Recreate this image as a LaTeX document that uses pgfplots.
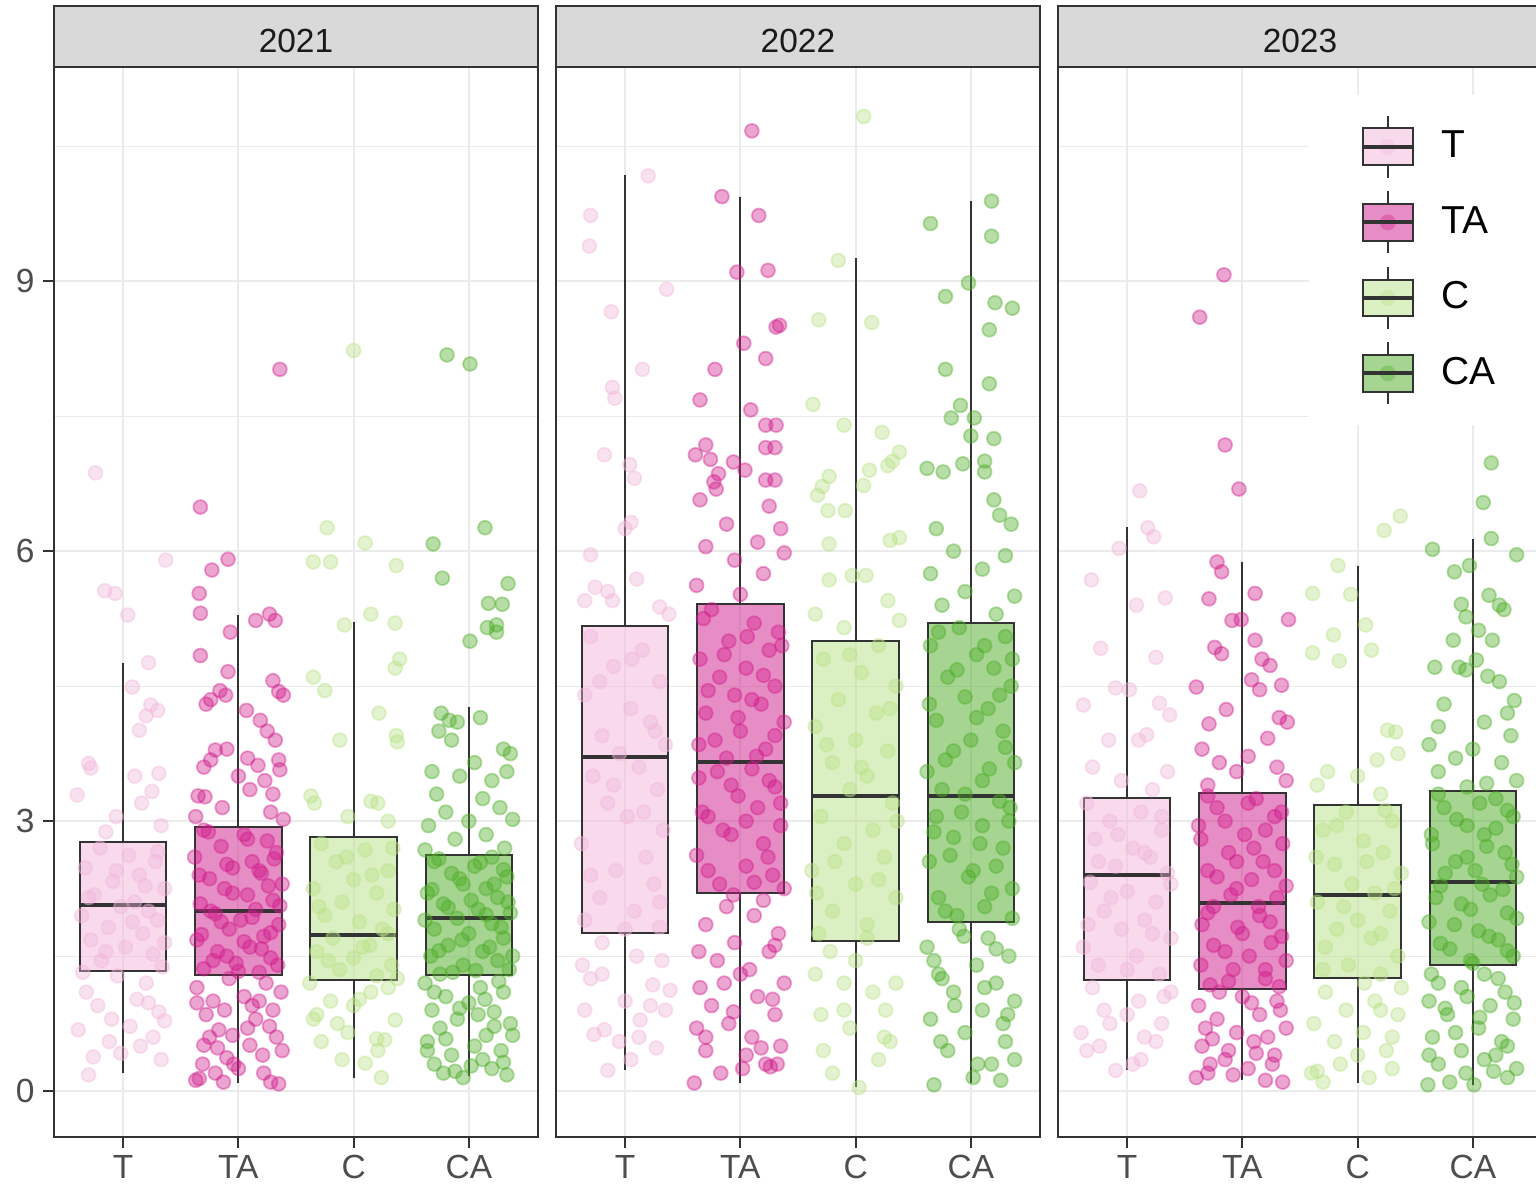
\documentclass[border=0pt]{standalone}
\usepackage{fontspec}
\setmainfont{Liberation Sans}
\usepackage{pgfplots}
\pgfplotsset{compat=1.18}
\usepgfplotslibrary{statistics}
\definecolor{cT}{HTML}{F1B6DA}
\definecolor{cTA}{HTML}{D01C8B}
\definecolor{cC}{HTML}{B8E186}
\definecolor{cCA}{HTML}{4DAC26}
\definecolor{gtwenty}{HTML}{333333}
\definecolor{gthirty}{HTML}{4D4D4D}
\definecolor{gten}{HTML}{1A1A1A}
\definecolor{geightyfive}{HTML}{D9D9D9}
\definecolor{gninetytwo}{HTML}{EBEBEB}
\pgfplotsset{
  panel/.style={
    scale only axis, width=132.97pt, height=293.97pt, anchor=south west,
    xmin=0.4, xmax=4.6, ymin=-0.51, ymax=11.38,
    xtick={1,2,3,4}, xticklabels={T,TA,C,CA},
    ytick={0,3,6,9}, minor ytick={1.5,4.5,7.5,10.5},
    grid=both,
    major grid style={draw=gninetytwo, line width=0.55pt},
    minor grid style={draw=gninetytwo, line width=0.28pt},
    axis line style={draw=gtwenty, line width=0.65pt},
    tick align=outside, tick pos=left, major tick length=3pt, minor tick length=0pt,
    tick style={draw=gtwenty, line width=0.55pt},
    ticklabel style={font=\fontsize{9.2}{11}\selectfont, text=gthirty},
    xticklabel style={yshift=1.5pt},
    yticklabel style={xshift=1.2pt},
    /pgf/number format/assume math mode=true,
    clip=false,
  },
  pts/.style={only marks, mark=*, mark size=1.9pt, forget plot,
    mark options={draw=#1, fill=#1, opacity=0.4, line width=0.5pt}},
  bx/.style={forget plot, draw=gtwenty, fill=#1, fill opacity=0.5, line width=0.55pt,
    boxplot/draw direction=y,
    boxplot/box extend=0.75, boxplot/whisker extend=0,
    boxplot/every median/.style={line width=1.1pt}},
  legbox/.style={legend image code/.code={
    \path[draw=gtwenty, line width=0.55pt] (6.875pt,-8.5pt) -- (6.875pt,8.5pt);
    \path[draw=gtwenty, fill=#1!50!white, line width=0.55pt] (0pt,-5.05pt) rectangle (13.75pt,5.05pt);
    \path[draw=none, fill=#1, fill opacity=0.35] (6.875pt,0pt) circle (2.2pt);
    \path[draw=gtwenty, line width=1.1pt] (0pt,0pt) -- (13.75pt,0pt);
  }},
}
\newcommand{\strip}[1]{%
  \draw[draw=gtwenty, fill=geightyfive, line width=0.65pt] (rel axis cs:0,1) rectangle ([yshift=16.76pt]rel axis cs:1,1);
  \node[anchor=base, font=\fontsize{9.2}{11}\selectfont, text=gten, inner sep=0pt] at ([yshift=3.85pt]rel axis cs:0.5,1) {#1};
}
\begin{document}
\begin{tikzpicture}
\path[use as bounding box] (0,0) rectangle (422pt,325.29pt);
% ===================== 2021 =====================
\begin{axis}[panel, at={(14.84pt,12.91pt)}]
\addplot[pts=cT] table[x expr=\thisrowno{0}+1, y index=1, header=false, row sep=\\] {
-0.24 6.87\\ 0.37 5.9\\ -0.16 5.56\\ -0.07 5.53\\ 0.04 5.29\\ 0.22 4.76\\ 0.08 4.49\\ 0.24 4.29\\ 0.30 4.23\\ 0.2 4.17\\ 0.14 4.01\\ -0.3 3.64\\ -0.28 3.59\\ 0.31 3.53\\ 0.1 3.5\\ 0.25 3.33\\ -0.4 3.29\\ 0.16 3.2\\ -0.06 3.05\\ 0.33 2.95\\ -0.15 2.88\\
-0.2 2.7\\ 0.05 2.62\\ 0.28 2.55\\ -0.33 2.48\\ 0.14 2.4\\ -0.09 2.33\\ 0.36 2.25\\ -0.25 2.18\\ 0.1 2.1\\ -0.02 2.05\\ 0.22 2.0\\ -0.36 1.95\\ 0.3 1.9\\ -0.13 1.82\\ 0.17 1.75\\ -0.28 1.68\\ 0.02 1.6\\ 0.26 1.52\\ -0.19 1.45\\ 0.34 1.38\\
-0.05 1.28\\ 0.2 1.2\\ -0.32 1.1\\ 0.12 1.02\\ -0.22 0.95\\ 0.31 0.88\\ -0.1 0.8\\ 0.06 0.72\\ -0.39 0.68\\ 0.26 0.6\\ 0.15 0.5\\ -0.02 0.42\\ 0.33 0.35\\ -0.3 0.18\\
0.3 2.66\\ -0.06 2.45\\ 0.19 2.28\\ -0.3 2.15\\ 0.08 1.88\\ -0.15 1.55\\ 0.36 1.65\\ -0.35 1.32\\ 0.22 0.98\\ -0.12 0.55\\ 0.36 0.78\\ -0.26 0.38\\
};
\addplot[pts=cTA] table[x expr=\thisrowno{0}+2, y index=1, header=false, row sep=\\] {
-0.33 6.49\\ -0.09 5.91\\ -0.23 5.79\\ -0.34 5.53\\ -0.33 5.31\\ 0.15 5.23\\ 0.27 5.30\\ 0.32 5.23\\ -0.07 5.1\\ -0.33 4.84\\ -0.09 4.66\\ 0.30 4.56\\ 0.35 4.44\\ -0.24 4.35\\ -0.28 4.3\\ -0.16 4.45\\ -0.11 4.4\\ 0.39 4.4\\ 0.07 4.23\\ 0.19 4.12\\ 0.32 3.9\\ -0.2 3.79\\ -0.24 3.68\\ 0.17 3.62\\ 0.23 3.45\\ 0.35 3.68\\ -0.35 3.28\\ -0.29 3.27\\ 0.36 3.57\\ -0.1 3.8\\ 0.0 3.5\\ 0.1 3.35\\ -0.37 3.05\\ 0.28 3.1\\ 0.39 3.02\\ 0.36 8.02\\
-0.3 2.9\\ 0.05 2.85\\ 0.25 2.78\\ -0.15 2.72\\ 0.33 2.65\\ -0.38 2.6\\ 0.12 2.55\\ -0.05 2.48\\ 0.2 2.42\\ -0.25 2.36\\ 0.38 2.3\\ -0.12 2.25\\ 0.08 2.18\\ 0.3 2.12\\ -0.33 2.08\\ 0.15 2.02\\ -0.2 1.97\\ 0.02 1.9\\ 0.35 1.85\\ -0.08 1.8\\ 0.22 1.72\\ -0.36 1.68\\ 0.1 1.6\\ -0.18 1.55\\ 0.28 1.48\\ -0.02 1.42\\ -0.3 1.36\\ 0.18 1.32\\
-0.37 0.12\\ -0.34 0.14\\ -0.13 0.1\\ 0.28 0.1\\ 0.35 0.08\\ 0.21 0.4\\ -0.1 0.37\\ -0.3 0.51\\ -0.05 0.62\\ 0.1 0.51\\ -0.17 0.68\\ -0.28 0.85\\ 0.3 0.9\\ 0.15 0.8\\ -0.22 1.0\\ 0.05 1.05\\ 0.37 1.1\\ -0.36 1.15\\ 0.24 1.2\\ -0.08 1.25\\ 0.12 0.95\\ -0.31 0.3\\ 0.33 0.6\\ 0.0 0.25\\ -0.2 0.2\\
-0.26 2.88\\ 0.08 2.8\\ 0.31 2.58\\ -0.1 2.52\\ 0.18 2.45\\ -0.34 2.4\\ 0.26 2.28\\ -0.05 2.2\\ 0.36 2.06\\ -0.24 2.0\\ 0.12 1.93\\ -0.15 1.88\\ 0.28 1.76\\ -0.32 1.74\\ 0.05 1.66\\ 0.2 1.58\\ -0.1 1.5\\ 0.34 1.4\\ -0.22 1.45\\ 0.0 1.33\\ -0.36 0.98\\ 0.18 1.0\\ -0.12 0.9\\ 0.27 0.72\\ -0.25 0.6\\ 0.08 0.7\\ 0.38 0.45\\ -0.04 0.3\\ 0.22 0.2\\ -0.18 0.48\\ 0.3 3.3\\ -0.14 3.15\\ 0.08 3.7\\ -0.3 3.6\\ 0.25 4.0\\
};
\addplot[pts=cC] table[x expr=\thisrowno{0}+3, y index=1, header=false, row sep=\\] {
0.0 8.23\\ -0.23 6.26\\ 0.1 6.09\\ -0.35 5.88\\ -0.2 5.88\\ 0.37 5.84\\ -0.08 5.18\\ 0.15 5.3\\ 0.36 5.2\\ -0.35 4.6\\ -0.25 4.45\\ 0.36 4.7\\ 0.4 4.8\\ -0.12 3.9\\ 0.22 4.2\\ 0.37 3.95\\ 0.38 3.88\\ -0.37 3.28\\ -0.34 3.2\\ 0.21 3.2\\ 0.15 3.22\\ -0.05 3.05\\ 0.3 3.0\\
-0.28 2.75\\ 0.1 2.68\\ -0.15 2.55\\ 0.3 2.45\\ 0.0 2.35\\ -0.35 2.25\\ 0.2 2.2\\ -0.1 2.1\\ 0.35 2.02\\ -0.25 1.95\\ 0.05 1.88\\ 0.25 1.8\\ -0.18 1.7\\ 0.14 1.62\\ -0.32 1.55\\ 0.0 1.48\\ 0.33 1.4\\ -0.12 1.35\\ 0.2 1.28\\
0.24 0.15\\ 0.1 0.31\\ -0.32 0.85\\ -0.35 0.8\\ 0.21 0.45\\ 0.27 0.57\\ 0.36 0.79\\ -0.05 0.65\\ -0.2 1.0\\ 0.15 1.1\\ 0.3 1.15\\ -0.28 0.55\\ 0.0 0.95\\ -0.1 0.35\\
0.34 2.7\\ -0.06 2.6\\ 0.16 2.4\\ -0.3 2.05\\ 0.08 1.6\\ -0.22 1.45\\ 0.3 1.75\\ 0.38 1.25\\ -0.38 1.2\\ 0.05 1.02\\ -0.14 0.75\\ 0.2 0.58\\
};
\addplot[pts=cCA] table[x expr=\thisrowno{0}+4, y index=1, header=false, row sep=\\] {
-0.19 8.18\\ 0.01 8.08\\ -0.31 6.08\\ 0.14 6.26\\ -0.23 5.7\\ 0.34 5.64\\ 0.17 5.42\\ 0.29 5.41\\ 0.16 5.15\\ 0.24 5.18\\ 0.01 5.0\\ 0.24 5.1\\ -0.24 4.2\\ -0.17 4.12\\ -0.1 4.1\\ -0.26 4.0\\ -0.15 3.9\\ 0.1 4.15\\ 0.3 3.8\\ 0.36 3.75\\ 0.05 3.65\\ -0.32 3.55\\ -0.08 3.5\\ 0.2 3.45\\ 0.33 3.55\\ -0.28 3.3\\ 0.12 3.25\\ -0.2 3.1\\ 0.27 3.15\\ 0.0 3.0\\ -0.35 2.95\\ 0.38 3.02\\ 0.15 2.85\\ -0.12 2.8\\ 0.31 2.7\\ -0.38 2.68\\
0.2 2.6\\ -0.3 2.55\\ 0.05 2.5\\ -0.15 2.42\\ 0.33 2.38\\ -0.05 2.3\\ 0.15 2.25\\ -0.36 2.2\\ 0.25 2.15\\ -0.22 2.08\\ 0.08 2.02\\ 0.36 1.98\\ -0.1 1.92\\ 0.2 1.86\\ -0.3 1.8\\ 0.0 1.75\\ 0.3 1.7\\ -0.18 1.62\\ 0.12 1.55\\ -0.33 1.5\\ 0.25 1.45\\ -0.05 1.4\\ 0.35 1.35\\ -0.25 1.3\\
-0.38 1.2\\ 0.1 1.15\\ -0.2 1.05\\ 0.3 1.1\\ 0.0 0.98\\ -0.32 0.9\\ 0.22 0.88\\ -0.1 0.8\\ 0.36 0.75\\ -0.25 0.7\\ 0.15 0.62\\ -0.36 0.55\\ 0.05 0.5\\ 0.28 0.45\\ -0.15 0.4\\ -0.3 0.3\\ 0.2 0.25\\ 0.33 0.18\\ -0.05 0.15\\ 0.12 0.35\\ -0.22 0.2\\
-0.26 2.58\\ 0.1 2.54\\ 0.3 2.46\\ -0.08 2.36\\ 0.22 2.3\\ -0.32 2.24\\ 0.02 2.12\\ 0.34 2.1\\ -0.18 2.04\\ 0.15 1.96\\ -0.38 1.9\\ 0.28 1.82\\ -0.06 1.68\\ 0.18 1.6\\ -0.26 1.56\\ 0.38 1.5\\ 0.06 1.34\\ -0.14 1.32\\ 0.26 1.22\\ -0.3 1.1\\ 0.14 1.02\\ -0.08 0.92\\ 0.38 0.62\\ -0.2 0.58\\ 0.22 0.72\\ -0.36 0.45\\ 0.02 0.28\\ 0.3 0.32\\ -0.12 0.22\\ 0.08 0.85\\
};
\addplot[bx=cT, boxplot prepared={draw position=1, lower whisker=0.2, lower quartile=1.34, median=2.07, upper quartile=2.77, upper whisker=4.76}] coordinates {};
\addplot[bx=cTA, boxplot prepared={draw position=2, lower whisker=0.09, lower quartile=1.29, median=2.0, upper quartile=2.94, upper whisker=5.29}] coordinates {};
\addplot[bx=cC, boxplot prepared={draw position=3, lower whisker=0.14, lower quartile=1.23, median=1.73, upper quartile=2.82, upper whisker=5.21}] coordinates {};
\addplot[bx=cCA, boxplot prepared={draw position=4, lower whisker=0.17, lower quartile=1.29, median=1.92, upper quartile=2.62, upper whisker=4.27}] coordinates {};
\strip{2021}
\end{axis}
% ===================== 2022 =====================
\begin{axis}[panel, at={(152.75pt,12.91pt)}, yticklabels={}, ytick style={draw=none}]
\addplot[pts=cT] table[x expr=\thisrowno{0}+1, y index=1, header=false, row sep=\\] {
0.2 10.17\\ -0.3 9.73\\ -0.31 9.39\\ -0.12 8.66\\ 0.36 8.91\\ 0.15 8.02\\ -0.11 7.82\\ -0.09 7.7\\ -0.18 7.07\\ 0.04 6.96\\ 0.08 6.81\\ 0.05 6.32\\ 0.0 6.25\\ -0.3 5.96\\ 0.1 5.69\\ -0.11 5.45\\ 0.3 5.38\\ -0.26 5.6\\ -0.15 5.55\\ -0.35 5.45\\ 0.38 5.3\\
-0.3 5.05\\ 0.15 4.9\\ -0.1 4.72\\ 0.3 4.55\\ -0.35 4.4\\ 0.05 4.25\\ 0.22 4.1\\ -0.2 3.95\\ 0.35 3.85\\ -0.05 3.75\\ 0.12 3.6\\ -0.28 3.5\\ 0.28 3.35\\ -0.15 3.2\\ 0.02 3.05\\ 0.33 2.9\\ -0.38 2.75\\ 0.18 2.6\\ -0.08 2.45\\ 0.25 2.3\\ -0.22 2.15\\ 0.08 2.0\\ -0.35 1.9\\ 0.3 1.82\\
-0.15 0.23\\ -0.27 0.63\\ -0.18 0.68\\ 0.27 0.48\\ 0.13 0.79\\ 0.24 1.18\\ 0.39 1.12\\ -0.37 1.4\\ 0.0 1.0\\ -0.05 0.55\\ 0.35 0.9\\ -0.3 1.25\\ 0.1 1.5\\ -0.2 1.65\\ 0.32 1.45\\ 0.05 0.35\\
0.06 4.8\\ -0.22 4.55\\ 0.26 4.0\\ -0.1 3.4\\ 0.16 3.1\\ -0.3 2.4\\ 0.3 2.1\\ 0.0 1.8\\ -0.2 1.3\\ 0.22 0.95\\ -0.35 0.9\\ 0.12 0.6\\
};
\addplot[pts=cTA] table[x expr=\thisrowno{0}+2, y index=1, header=false, row sep=\\] {
0.1 10.67\\ -0.16 9.94\\ 0.16 9.73\\ -0.03 9.1\\ 0.24 9.12\\ 0.03 8.31\\ 0.31 8.49\\ 0.34 8.51\\ 0.22 8.14\\ -0.22 8.02\\ -0.35 7.68\\ 0.09 7.57\\ 0.22 7.4\\ 0.31 7.4\\ 0.22 7.15\\ 0.3 7.15\\ -0.3 7.18\\ -0.39 7.07\\ -0.26 7.02\\ -0.06 6.99\\ -0.19 6.86\\ -0.23 6.77\\ -0.21 6.69\\ 0.04 6.9\\ 0.22 6.79\\ 0.3 6.79\\ -0.35 6.57\\ 0.25 6.5\\ -0.12 6.3\\ 0.35 6.25\\ 0.15 6.1\\ -0.3 6.05\\ 0.38 5.98\\ -0.05 5.9\\ 0.2 5.75\\ -0.38 5.62\\ 0.0 5.52\\
-0.25 5.35\\ 0.12 5.2\\ 0.33 5.1\\ -0.1 5.0\\ 0.25 4.9\\ -0.35 4.8\\ 0.05 4.7\\ -0.18 4.6\\ 0.3 4.5\\ -0.05 4.4\\ 0.18 4.3\\ -0.3 4.2\\ 0.38 4.1\\ 0.0 4.0\\ -0.22 3.9\\ 0.22 3.8\\ -0.12 3.7\\ 0.1 3.58\\ -0.36 3.48\\ 0.3 3.38\\ -0.02 3.28\\ 0.15 3.15\\ -0.28 3.05\\ 0.35 2.95\\ -0.08 2.85\\ 0.2 2.75\\ -0.38 2.62\\ 0.05 2.5\\ 0.28 2.4\\ -0.18 2.3\\
-0.4 0.09\\ -0.17 0.2\\ 0.22 0.3\\ 0.26 0.27\\ 0.02 0.25\\ 0.35 0.5\\ -0.3 0.45\\ 0.1 0.6\\ -0.1 0.75\\ 0.3 0.85\\ -0.25 0.95\\ 0.15 1.05\\ -0.35 1.15\\ 0.38 1.2\\ 0.0 1.3\\ -0.2 1.45\\ 0.25 1.55\\ -0.05 1.65\\ 0.33 1.75\\ -0.3 1.85\\ 0.12 1.95\\ -0.12 2.05\\ 0.2 2.12\\ -0.38 0.7\\ 0.05 0.4\\
-0.32 5.25\\ 0.06 5.05\\ 0.36 4.95\\ -0.14 4.85\\ 0.2 4.62\\ -0.28 4.45\\ 0.1 4.35\\ -0.02 4.15\\ 0.3 3.95\\ -0.36 3.85\\ 0.14 3.72\\ -0.2 3.55\\ 0.25 3.45\\ -0.08 3.4\\ 0.35 3.2\\ -0.33 3.1\\ 0.05 3.0\\ -0.15 2.9\\ 0.24 2.6\\ -0.28 2.45\\ 0.12 2.32\\ 0.38 2.25\\ -0.06 2.18\\ 0.3 1.62\\ -0.36 1.55\\ 0.08 1.35\\ -0.14 1.2\\ 0.28 1.02\\ -0.3 0.6\\ 0.18 0.48\\ 0.32 0.3\\ -0.06 0.88\\
};
\addplot[pts=cC] table[x expr=\thisrowno{0}+3, y index=1, header=false, row sep=\\] {
0.07 10.83\\ -0.15 9.23\\ -0.32 8.57\\ 0.14 8.54\\ -0.37 7.63\\ -0.1 7.4\\ 0.23 7.32\\ 0.38 7.1\\ 0.32 7.0\\ 0.28 6.95\\ 0.12 6.9\\ -0.29 6.72\\ -0.23 6.83\\ 0.07 6.73\\ -0.33 6.62\\ -0.24 6.45\\ -0.09 6.45\\ -0.23 6.08\\ 0.3 6.12\\ 0.38 6.15\\ -0.23 5.68\\ -0.03 5.73\\ 0.09 5.73\\ 0.28 5.45\\ 0.38 5.23\\ -0.35 5.3\\ -0.1 5.15\\
0.2 4.95\\ -0.28 4.8\\ 0.05 4.65\\ 0.35 4.5\\ -0.15 4.35\\ 0.18 4.2\\ -0.35 4.05\\ 0.0 3.9\\ 0.28 3.78\\ -0.2 3.65\\ 0.1 3.5\\ -0.05 3.35\\ 0.32 3.2\\ -0.3 3.05\\ 0.15 2.9\\ -0.1 2.75\\ 0.25 2.6\\ -0.38 2.45\\ 0.0 2.3\\ 0.35 2.15\\ -0.2 2.0\\ 0.1 1.85\\ -0.32 1.75\\
0.03 0.04\\ -0.2 0.2\\ 0.3 0.55\\ 0.25 0.6\\ -0.3 0.85\\ -0.1 0.9\\ 0.15 1.1\\ -0.35 1.3\\ 0.35 1.2\\ 0.0 1.45\\ -0.22 1.55\\ 0.2 0.35\\ -0.05 0.7\\
-0.05 4.85\\ 0.3 4.25\\ -0.25 3.85\\ 0.05 3.6\\ 0.36 3.0\\ -0.18 2.55\\ 0.2 2.35\\ -0.34 2.2\\ 0.1 1.7\\ -0.1 1.2\\ 0.26 0.9\\ -0.28 0.45\\
};
\addplot[pts=cCA] table[x expr=\thisrowno{0}+4, y index=1, header=false, row sep=\\] {
0.18 9.89\\ 0.18 9.5\\ -0.35 9.64\\ -0.02 8.98\\ -0.22 8.83\\ 0.36 8.7\\ 0.21 8.76\\ 0.16 8.46\\ -0.22 8.02\\ 0.16 7.86\\ -0.09 7.62\\ -0.17 7.48\\ 0.03 7.48\\ 0.0 7.28\\ 0.2 7.25\\ 0.12 7.0\\ -0.07 6.97\\ -0.38 6.92\\ -0.24 6.88\\ 0.12 6.88\\ 0.2 6.57\\ 0.25 6.4\\ -0.3 6.25\\ 0.35 6.3\\ -0.15 6.0\\ 0.3 5.95\\ -0.35 5.75\\ 0.1 5.8\\ -0.05 5.55\\ 0.38 5.5\\ -0.25 5.4\\ 0.22 5.3\\
-0.1 5.15\\ 0.3 5.05\\ -0.35 4.95\\ 0.05 4.85\\ 0.2 4.7\\ -0.2 4.6\\ 0.35 4.5\\ -0.05 4.38\\ 0.15 4.25\\ -0.3 4.12\\ 0.28 4.0\\ 0.0 3.9\\ -0.15 3.78\\ 0.38 3.65\\ -0.38 3.55\\ 0.1 3.45\\ -0.25 3.35\\ 0.25 3.22\\ -0.08 3.1\\ 0.33 3.0\\ -0.32 2.88\\ 0.08 2.75\\ -0.18 2.62\\ 0.22 2.5\\ -0.02 2.38\\ 0.36 2.25\\ -0.28 2.15\\ 0.12 2.05\\ -0.12 1.95\\
-0.32 0.07\\ 0.02 0.15\\ 0.26 0.12\\ 0.18 0.3\\ -0.2 0.45\\ 0.3 0.55\\ -0.05 0.65\\ -0.35 0.8\\ 0.1 0.9\\ 0.38 1.0\\ -0.15 1.1\\ 0.22 1.2\\ -0.28 1.3\\ 0.05 1.4\\ 0.33 1.5\\ -0.38 1.6\\ 0.15 1.7\\ -0.1 1.8\\ 0.28 0.75\\ -0.25 1.25\\
-0.28 5.1\\ 0.12 4.95\\ 0.36 4.8\\ -0.12 4.68\\ 0.25 4.4\\ -0.36 4.3\\ 0.05 4.15\\ 0.3 3.82\\ -0.22 3.68\\ 0.16 3.58\\ -0.05 3.3\\ 0.34 3.15\\ -0.3 3.05\\ 0.1 2.95\\ -0.15 2.82\\ 0.28 2.7\\ -0.36 2.55\\ 0.02 2.45\\ 0.18 2.2\\ -0.22 2.0\\ 0.36 1.92\\ -0.06 1.72\\ 0.22 1.58\\ -0.32 1.45\\ 0.12 1.15\\ -0.14 0.95\\ 0.32 0.85\\ -0.26 0.55\\ 0.06 0.3\\ 0.38 0.35\\
};
\addplot[bx=cT, boxplot prepared={draw position=1, lower whisker=0.23, lower quartile=1.76, median=3.71, upper quartile=5.17, upper whisker=10.18}] coordinates {};
\addplot[bx=cTA, boxplot prepared={draw position=2, lower whisker=0.09, lower quartile=2.2, median=3.66, upper quartile=5.41, upper whisker=9.94}] coordinates {};
\addplot[bx=cC, boxplot prepared={draw position=3, lower whisker=0.04, lower quartile=1.67, median=3.28, upper quartile=5.0, upper whisker=9.26}] coordinates {};
\addplot[bx=cCA, boxplot prepared={draw position=4, lower whisker=0.09, lower quartile=1.88, median=3.28, upper quartile=5.2, upper whisker=9.89}] coordinates {};
\strip{2022}
\end{axis}
% ===================== 2023 =====================
\begin{axis}[panel, at={(290.67pt,12.91pt)}, yticklabels={}, ytick style={draw=none},
  legend style={at={(0.5165,0.9746)}, anchor=north west, draw=none, fill=white,
    inner xsep=14.3pt, inner ysep=5.5pt, row sep=3.2pt, column sep=7.4pt,
    nodes={inner sep=0pt}, font=\fontsize{10.7}{12}\selectfont},
  legend cell align=left]
\addplot[pts=cT] table[x expr=\thisrowno{0}+1, y index=1, header=false, row sep=\\] {
0.11 6.67\\ 0.18 6.26\\ 0.23 6.16\\ -0.07 6.03\\ -0.31 5.68\\ 0.33 5.48\\ 0.08 5.4\\ -0.23 4.92\\ 0.25 4.82\\ -0.1 4.48\\ 0.02 4.46\\ -0.38 4.29\\ 0.28 4.31\\ 0.37 4.18\\ 0.17 3.96\\ -0.16 3.9\\ 0.1 3.9\\ -0.3 3.6\\ 0.35 3.55\\ -0.05 3.45\\ 0.22 3.35\\
-0.35 3.2\\ 0.12 3.1\\ -0.15 3.0\\ 0.3 2.9\\ -0.28 2.8\\ 0.05 2.7\\ 0.2 2.6\\ -0.1 2.5\\ 0.35 2.42\\ -0.32 2.32\\ 0.0 2.22\\ 0.25 2.1\\ -0.2 2.0\\ 0.15 1.9\\ -0.05 1.8\\ 0.38 1.7\\ -0.38 1.6\\ 0.08 1.5\\ -0.25 1.4\\ 0.28 1.3\\
-0.1 0.23\\ 0.05 0.3\\ -0.35 0.45\\ -0.4 0.65\\ 0.25 0.55\\ 0.15 0.6\\ 0.32 1.05\\ -0.2 0.9\\ 0.38 1.1\\ 0.0 0.85\\ -0.3 1.15\\ 0.1 1.0\\ -0.15 0.75\\
0.3 3.05\\ -0.08 2.85\\ 0.15 2.65\\ -0.25 2.55\\ 0.38 2.3\\ -0.14 2.15\\ 0.22 1.75\\ -0.34 1.85\\ 0.0 1.35\\ 0.3 0.75\\ -0.24 0.5\\ 0.12 0.35\\
};
\addplot[pts=cTA] table[x expr=\thisrowno{0}+2, y index=1, header=false, row sep=\\] {
-0.16 9.07\\ -0.37 8.6\\ -0.15 7.18\\ -0.03 6.69\\ -0.22 5.88\\ -0.18 5.77\\ 0.11 5.53\\ -0.29 5.47\\ 0.4 5.24\\ -0.09 5.23\\ -0.01 5.24\\ 0.11 5.01\\ -0.24 4.93\\ -0.18 4.86\\ 0.17 4.8\\ 0.24 4.73\\ 0.08 4.57\\ 0.34 4.51\\ 0.15 4.46\\ -0.14 4.24\\ 0.32 4.15\\ 0.39 4.1\\ -0.4 4.49\\ -0.29 4.08\\ 0.22 3.92\\ -0.35 3.8\\ 0.05 3.72\\ -0.2 3.65\\ 0.3 3.6\\ -0.05 3.55\\ 0.38 3.45\\ -0.3 3.4\\
0.12 3.25\\ -0.22 3.15\\ 0.28 3.05\\ -0.38 2.95\\ 0.02 2.85\\ 0.35 2.75\\ -0.12 2.65\\ 0.18 2.55\\ -0.3 2.45\\ 0.08 2.35\\ -0.05 2.25\\ 0.3 2.15\\ -0.25 2.05\\ 0.15 1.95\\ -0.35 1.85\\ 0.0 1.75\\ 0.25 1.65\\ -0.15 1.55\\ 0.38 1.45\\ -0.08 1.35\\ 0.2 1.25\\ -0.28 1.18\\
-0.4 0.15\\ -0.3 0.2\\ 0.2 0.12\\ 0.35 0.1\\ 0.05 0.25\\ -0.15 0.35\\ 0.28 0.4\\ -0.35 0.5\\ 0.1 0.55\\ -0.05 0.65\\ 0.38 0.7\\ -0.22 0.8\\ 0.15 0.85\\ -0.38 0.95\\ 0.3 1.0\\ 0.0 1.05\\ -0.12 0.45\\ 0.22 0.6\\ -0.28 0.3\\ 0.33 0.9\\
-0.3 3.28\\ 0.05 3.2\\ 0.34 3.1\\ -0.15 3.0\\ 0.2 2.9\\ -0.36 2.8\\ 0.1 2.7\\ -0.05 2.55\\ 0.28 2.45\\ -0.22 2.38\\ 0.38 2.28\\ -0.1 2.18\\ 0.14 2.05\\ -0.3 1.98\\ 0.24 1.88\\ -0.04 1.82\\ 0.34 1.72\\ -0.25 1.62\\ 0.06 1.5\\ -0.36 1.4\\ 0.2 1.35\\ -0.12 1.22\\ 0.32 1.16\\ -0.2 1.1\\ 0.08 0.98\\ -0.32 0.7\\ 0.26 0.3\\ -0.08 0.18\\ 0.12 0.42\\ -0.26 0.58\\
};
\addplot[pts=cC] table[x expr=\thisrowno{0}+3, y index=1, header=false, row sep=\\] {
0.23 6.23\\ 0.37 6.39\\ -0.17 5.84\\ -0.39 5.53\\ -0.06 5.52\\ -0.21 5.07\\ 0.07 5.18\\ -0.16 4.78\\ -0.39 4.87\\ 0.12 4.9\\ 0.33 3.99\\ 0.26 4.01\\ 0.17 3.68\\ -0.26 3.55\\ 0.35 3.75\\ 0.0 3.5\\ -0.35 3.4\\ 0.2 3.3\\
-0.1 3.1\\ 0.3 3.0\\ -0.3 2.9\\ 0.05 2.78\\ 0.22 2.65\\ -0.2 2.52\\ 0.38 2.42\\ -0.05 2.3\\ 0.15 2.2\\ -0.35 2.1\\ 0.28 2.0\\ 0.0 1.9\\ -0.18 1.8\\ 0.12 1.7\\ -0.28 1.6\\ 0.35 1.5\\ -0.08 1.4\\ 0.2 1.3\\
-0.4 0.2\\ -0.35 0.22\\ -0.3 0.1\\ 0.3 0.25\\ 0.1 0.15\\ 0.25 0.45\\ -0.2 0.55\\ 0.05 0.65\\ -0.38 0.75\\ 0.35 0.85\\ -0.1 0.9\\ 0.15 1.0\\ -0.28 1.1\\ 0.0 0.4\\ 0.38 1.15\\
0.24 3.12\\ -0.18 2.95\\ 0.08 2.55\\ -0.36 2.6\\ 0.32 2.25\\ -0.12 2.05\\ 0.2 1.75\\ -0.3 1.35\\ 0.06 1.2\\ 0.3 0.6\\ -0.15 0.3\\ 0.2 0.9\\
};
\addplot[pts=cCA] table[x expr=\thisrowno{0}+4, y index=1, header=false, row sep=\\] {
0.16 6.98\\ 0.09 6.54\\ 0.16 6.14\\ -0.35 6.02\\ 0.38 5.96\\ -0.03 5.84\\ -0.16 5.77\\ 0.14 5.51\\ -0.1 5.41\\ 0.23 5.4\\ -0.06 5.27\\ 0.05 5.12\\ 0.27 5.35\\ -0.17 5.01\\ 0.17 5.01\\ 0.03 4.79\\ -0.33 4.71\\ -0.12 4.71\\ -0.06 4.68\\ 0.13 4.61\\ 0.23 4.55\\ 0.36 4.34\\ -0.25 4.3\\ 0.3 4.2\\ -0.3 4.05\\ 0.1 4.1\\ 0.33 3.95\\ -0.38 3.85\\ 0.0 3.8\\ -0.15 3.7\\ 0.25 3.65\\ -0.3 3.55\\ 0.38 3.45\\ 0.12 3.42\\ -0.05 3.38\\
0.2 3.25\\ -0.25 3.15\\ 0.35 3.05\\ -0.05 2.95\\ 0.1 2.85\\ -0.35 2.75\\ 0.28 2.65\\ -0.15 2.55\\ 0.02 2.45\\ 0.38 2.38\\ -0.28 2.28\\ 0.15 2.18\\ -0.1 2.08\\ 0.3 1.98\\ -0.38 1.88\\ 0.05 1.78\\ 0.22 1.68\\ -0.2 1.58\\ 0.35 1.5\\ -0.02 1.45\\
-0.39 0.07\\ -0.2 0.1\\ 0.01 0.07\\ 0.3 0.15\\ 0.38 0.25\\ -0.3 0.3\\ 0.1 0.35\\ -0.1 0.45\\ 0.25 0.55\\ -0.35 0.6\\ 0.05 0.7\\ 0.35 0.8\\ -0.22 0.85\\ 0.15 0.95\\ -0.05 1.05\\ 0.28 1.1\\ -0.3 1.2\\ 0.1 1.3\\ -0.15 0.65\\ 0.2 0.4\\ -0.38 1.0\\
-0.3 3.3\\ 0.06 3.2\\ 0.3 3.12\\ -0.14 3.02\\ 0.2 2.92\\ -0.36 2.85\\ 0.12 2.72\\ -0.05 2.6\\ 0.34 2.52\\ -0.24 2.42\\ 0.08 2.3\\ 0.26 2.24\\ -0.32 2.15\\ -0.02 2.02\\ 0.38 1.92\\ -0.16 1.85\\ 0.14 1.72\\ -0.28 1.64\\ 0.3 1.56\\ 0.0 1.42\\ -0.36 1.3\\ 0.22 1.25\\ -0.1 1.15\\ 0.36 0.98\\ -0.24 0.92\\ 0.06 0.82\\ -0.38 0.4\\ 0.3 0.5\\ -0.06 0.2\\ 0.18 0.22\\
};
\addplot[bx=cT, boxplot prepared={draw position=1, lower whisker=0.23, lower quartile=1.23, median=2.4, upper quartile=3.26, upper whisker=6.27}] coordinates {};
\addplot[bx=cTA, boxplot prepared={draw position=2, lower whisker=0.12, lower quartile=1.14, median=2.09, upper quartile=3.31, upper whisker=5.88}] coordinates {};
\addplot[bx=cC, boxplot prepared={draw position=3, lower whisker=0.09, lower quartile=1.26, median=2.18, upper quartile=3.18, upper whisker=5.84}] coordinates {};
\addplot[bx=cCA, boxplot prepared={draw position=4, lower whisker=0.07, lower quartile=1.4, median=2.32, upper quartile=3.34, upper whisker=6.14}] coordinates {};
\addlegendimage{legbox=cT}\addlegendentry{T}
\addlegendimage{legbox=cTA}\addlegendentry{TA}
\addlegendimage{legbox=cC}\addlegendentry{C}
\addlegendimage{legbox=cCA}\addlegendentry{CA}
\strip{2023}
\end{axis}
\end{tikzpicture}
\end{document}
